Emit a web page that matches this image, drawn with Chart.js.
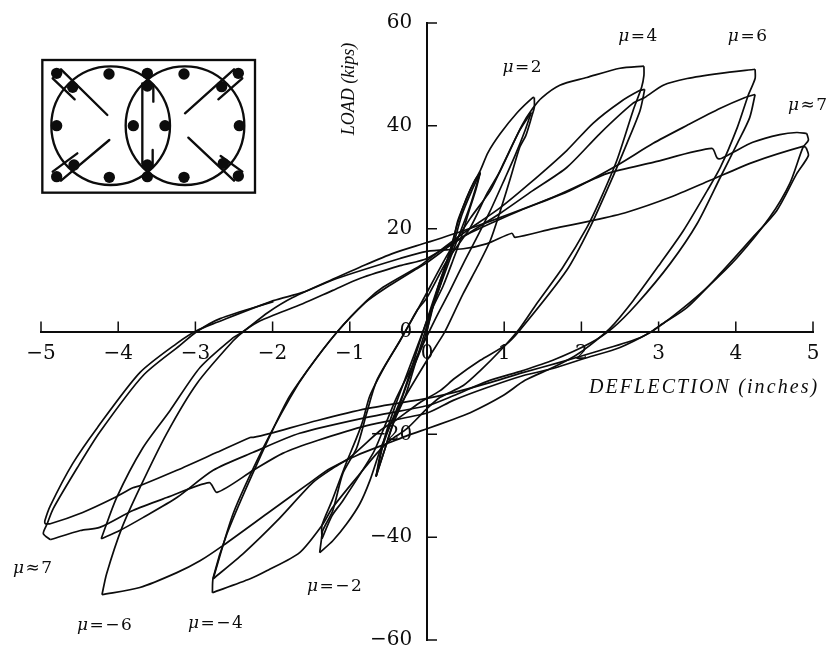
<!DOCTYPE html>
<html><head><meta charset="utf-8">
<script src="https://cdn.jsdelivr.net/npm/chart.js@4"></script>
<style>html,body{margin:0;padding:0;background:#fff}canvas{display:block}</style>
</head><body><canvas id="c" width="829" height="646"></canvas>
<script>
const xTicks=[-5,-4,-3,-2,-1,0,1,2,3,4,5];
const yTicks=[-60,-40,-20,0,20,40,60];
const muLabels=['μ=2','μ=4','μ=6','μ≈7','μ≈7','μ=−6','μ=−4','μ=−2'];
const muX=[1.24,2.74,4.16,4.94,-5.1,-4.17,-2.73,-1.19];
const muY=[51.4,57.4,57.4,43.9,-46.2,-57.2,-56.8,-49.6];
const xTitle='DEFLECTION (inches)';
const yTitle='LOAD (kips)';

const cycle01=[[0,0],[.06,4.1],[.17,8.9],[.30,15.8],[.40,21.2],[.51,25.9],[.62,29.4],[.69,30.9]];
const cycle02=[[.69,30.9],[.63,27.4],[.54,23.2],[.43,17.7],[.32,13.2],[.21,8.9],[.06,4.1],[-.04,-.8],[-.16,-6.6],[-.28,-12.5],[-.45,-18.3],[-.54,-22.6],[-.66,-28.2]];
const cycle03=[[-.66,-28.2],[-.60,-23.5],[-.48,-18.3],[-.32,-12.5],[-.19,-6.6],[-.09,-1.8],[.04,4.1],[.17,9.9],[.32,15.8],[.45,22.6],[.58,27.4],[.69,30.9]];
const cycle04=[[.69,30.9],[.56,24.5],[.43,19.3],[.30,14.2],[.17,8.9],[.01,2.5],[-.12,-2.7],[-.28,-9.1],[-.41,-14.4],[-.54,-20.2],[-.66,-28.2]];
const cycle05=[[-.66,-28.2],[-.51,-21.2],[-.38,-15.4],[-.22,-8.6],[-.06,-2.7],[.04,2.5],[.13,8.0],[.25,13.4],[.34,17.7],[.40,21.6],[.52,26.1],[.60,28.8],[.69,31.3],[.79,34.8],[.95,38.5],[1.17,42.6],[1.37,45.5],[1.39,45.5]];
const cycle06=[[1.39,45.5],[1.39,43.6],[1.36,42.0],[1.28,38.1],[1.20,35.8],[1.08,29.8],[.95,23.5],[.82,17.7],[.65,12.5],[.47,7.4],[.26,.8],[.21,-.6],[0,-5.6],[-.31,-13.4],[-.48,-18.3],[-.61,-23.2],[-.74,-29.0],[-.87,-33.5],[-1.04,-37.4],[-1.22,-40.7],[-1.39,-43.0]];
const cycle07=[[-1.39,-43.0],[-1.37,-40.7],[-1.35,-38.7],[-1.22,-34.8],[-1.09,-27.6],[-.91,-22.6],[-.78,-15.8],[-.65,-9.5],[-.35,-1.8],[-.26,.6],[-.13,4.1],[0,6.6],[.26,13.8],[.56,20.2],[.78,26.9],[.95,31.3],[1.20,39.1],[1.35,42.6]];
const cycle08=[[1.35,42.6],[1.27,39.1],[1.14,34.2],[1.01,29.8],[.82,23.5],[.66,18.7],[.49,13.8],[.30,8.0],[.13,3.1],[-.03,-1.8],[-.22,-7.6],[-.41,-13.4],[-.58,-19.6],[-.70,-23.7],[-1.09,-32.9],[-1.23,-35.8],[-1.36,-40.3]];
const cycle09=[[-1.36,-40.3],[-1.36,-37.7],[-1.23,-32.9],[-1.06,-26.1],[-.91,-20.6],[-.83,-17.3],[-.74,-12.5],[-.54,-6.6],[-.35,-1.8],[-.09,5.1],[.26,14.8],[.56,22.0],[.82,27.4],[1.01,33.3],[1.23,40.1],[1.37,43.4],[1.49,45.5],[1.72,47.9],[2.07,49.4],[2.50,51.2],[2.81,51.6]];
const cycle10=[[2.81,51.6],[2.81,49.8],[2.78,47.5],[2.67,43.0],[2.46,33.3],[2.24,25.5],[2.07,20.2],[1.76,12.5],[1.42,5.4],[1.20,.6],[.95,-3.7],[.69,-7.6],[.47,-10.5],[.17,-12.8],[0,-15.0],[-.26,-18.9],[-.48,-21.2],[-.65,-23.7],[-.91,-28.4],[-1.22,-34.2],[-1.36,-37.7],[-1.65,-43.0],[-2.07,-46.5],[-2.29,-48.1],[-2.78,-50.8]];
const cycle11=[[-2.78,-50.8],[-2.77,-47.9],[-2.59,-39.3],[-2.20,-25.7],[-1.81,-13.4],[-1.55,-7.6],[-1.17,-.2],[-.78,6.0],[-.57,8.6],[-.09,12.8],[0,13.8],[.47,19.1],[.95,24.1],[1.33,28.8],[1.81,35.2],[2.15,40.5],[2.50,44.6],[2.76,46.9],[2.82,47.1]];
const cycle12=[[2.82,47.1],[2.76,43.0],[2.59,36.6],[2.37,28.8],[2.11,20.2],[1.81,11.9],[1.20,.2],[1.01,-2.7],[.69,-5.6],[.36,-9.1],[.17,-11.5],[-.09,-13.8],[-.41,-17.3],[-.61,-19.3],[-1.0,-24.5],[-1.23,-26.7],[-1.48,-29.4],[-1.94,-36.8],[-2.38,-43.2],[-2.77,-48.1]];
const cycle13=[[-2.77,-48.1],[-2.51,-35.4],[-2.12,-22.6],[-1.77,-12.8],[-1.55,-7.6],[-1.17,-.2],[-.80,5.6],[-.54,8.4],[-.09,12.6],[0,13.4],[.30,16.7],[.56,19.3],[.95,23.0],[1.37,27.4],[1.81,31.9],[2.24,38.5],[2.67,44.4],[2.82,45.5],[3.06,47.9],[3.37,49.2],[3.80,50.2],[4.25,51.0]];
const cycle14=[[4.25,51.0],[4.25,49.2],[4.16,45.9],[4.02,39.7],[3.80,31.9],[3.63,27.4],[3.32,19.6],[3.02,13.2],[2.67,6.0],[2.37,.6],[2.11,-2.7],[1.92,-4.7],[1.63,-7.0],[1.27,-9.5],[.98,-12.5],[.56,-15.8],[.30,-17.3],[0,-18.9],[-.28,-20.4],[-.52,-21.8],[-.91,-24.1],[-1.26,-26.7],[-1.48,-29.0],[-2.07,-35.4],[-2.64,-41.6],[-2.94,-44.6],[-3.24,-46.9],[-3.72,-49.8],[-4.21,-51.2]];
const cycle15=[[-4.21,-51.2],[-4.15,-47.1],[-3.95,-38.1],[-3.72,-30.4],[-3.37,-19.8],[-2.98,-10.1],[-2.51,-1.8],[-2.36,.2],[-2.16,2.1],[-1.61,5.4],[-1.22,8.0],[-.87,10.3],[-.35,12.8],[0,14.2],[.47,18.5],[.91,21.6],[1.20,23.5],[1.85,27.4],[2.46,32.3],[2.93,36.6],[3.37,40.1],[3.80,43.4],[4.12,45.5],[4.25,46.1]];
const cycle16=[[4.25,46.1],[4.18,41.6],[4.02,36.6],[3.80,30.0],[3.50,21.0],[3.15,13.2],[2.72,5.4],[2.40,.6],[2.11,-2.3],[1.63,-5.6],[1.24,-7.6],[.78,-9.7],[.34,-12.5],[.01,-14.4],[-.78,-16.7],[-1.65,-19.8],[-2.25,-23.5],[-2.77,-27.0],[-3.24,-32.3],[-3.68,-36.2],[-3.98,-38.7],[-4.22,-40.3]];
const cycle17=[[-4.22,-40.3],[-4.02,-32.3],[-3.68,-22.6],[-3.33,-15.4],[-2.94,-7.0],[-2.51,-1.2],[-2.38,0],[-2.06,3.7],[-1.74,6.6],[-1.17,10.5],[-.87,12.5],[-.44,15.2],[0,17.3],[.47,19.6],[.92,22.0],[1.63,26.1],[2.33,30.7],[2.93,32.9],[3.69,35.6],[3.76,33.7],[3.82,33.7],[3.96,34.8],[4.22,36.8],[4.57,38.3],[4.79,38.7],[4.92,38.5]];
const cycle18=[[4.92,38.5],[4.94,37.2],[4.87,35.8],[4.70,28.8],[4.44,22.2],[4.02,14.4],[3.63,8.6],[3.28,4.1],[2.99,.8],[2.76,-1.2],[2.24,-3.7],[1.72,-6.0],[1.24,-8.0],[.78,-10.1],[.34,-11.9],[0,-13.0],[-.78,-15.0],[-1.42,-17.3],[-2.03,-19.8],[-2.25,-20.6],[-2.29,-20.6],[-2.72,-23.5],[-3.24,-27.0],[-3.72,-30.0],[-3.81,-30.4],[-4.07,-32.5],[-4.46,-35.2],[-4.88,-37.4],[-4.95,-37.4]];
const cycle19=[[-4.95,-37.4],[-4.95,-36.8],[-4.88,-33.9],[-4.59,-25.7],[-4.27,-18.7],[-3.72,-8.0],[-3.24,-2.3],[-2.98,.2],[-2.72,1.8],[-1.99,6.0],[-1.61,7.6],[-1.17,10.3],[-.35,14.2],[0,15.6],[.47,16.1],[.78,17.1],[1.10,19.1],[1.14,18.3],[1.63,20.0],[2.15,21.6],[2.59,23.2],[3.15,26.1],[3.67,29.4],[4.22,32.9],[4.87,36.0],[4.91,35.8]];
const cycle20=[[4.91,35.8],[4.94,34.2],[4.79,30.7],[4.53,23.5],[4.22,18.3],[3.80,11.3],[3.37,4.7],[3.02,1.2],[2.89,-.2],[2.50,-3.1],[2.07,-5.1],[1.63,-7.2],[1.24,-8.6],[.78,-10.9],[.34,-13.4],[.01,-15.8],[-.78,-18.3],[-1.42,-21.2],[-1.87,-23.7],[-2.25,-27.0],[-2.72,-31.3],[-2.82,-29.4],[-3.37,-32.3],[-3.81,-34.8],[-4.24,-38.1],[-4.49,-38.7],[-4.88,-40.5]];
const cycle21=[[-4.88,-40.5],[-4.97,-39.3],[-4.92,-37.4],[-4.84,-34.4],[-4.53,-26.5],[-4.24,-19.6],[-3.68,-8.6],[-3.20,-2.7],[-2.98,0],[-2.68,2.5],[-1.99,5.8]];
const cycles=[cycle01,cycle02,cycle03,cycle04,cycle05,cycle06,cycle07,cycle08,cycle09,cycle10,cycle11,cycle12,cycle13,cycle14,cycle15,cycle16,cycle17,cycle18,cycle19,cycle20,cycle21];

const INK='#0c0c0c';
const tickMarks={id:'tickMarks',afterDraw(ch){
  const c=ch.ctx,sx=ch.scales.x,sy=ch.scales.y,ax=sx.getPixelForValue(0),ay=sy.getPixelForValue(0);
  c.save();c.strokeStyle=INK;c.lineWidth=1.5;c.beginPath();
  xTicks.forEach(v=>{if(v===0)return;const p=sx.getPixelForValue(v);c.moveTo(p,ay);c.lineTo(p,ay-10);});
  yTicks.forEach(v=>{if(v===0)return;const p=sy.getPixelForValue(v);c.moveTo(ax,p);c.lineTo(ax+10,p);});
  c.stroke();c.restore();
}};
const texts={id:'texts',afterDraw(ch){
  const c=ch.ctx,sx=ch.scales.x,sy=ch.scales.y;
  c.save();c.fillStyle=INK;c.textAlign='center';c.textBaseline='middle';
  c.font='17px "DejaVu Serif"';c.letterSpacing='1.5px';
  muLabels.forEach((t,i)=>{
    const w=c.measureText(t).width,l=sx.getPixelForValue(muX[i])-w/2,y=sy.getPixelForValue(muY[i]);
    c.textAlign='left';c.font='italic 17px "DejaVu Serif"';c.fillText(t[0],l,y);
    const m=c.measureText(t[0]).width;c.font='17px "DejaVu Serif"';c.fillText(t.slice(1),l+m,y);
  });
  c.textAlign='center';c.letterSpacing='2.1px';
  c.font='italic 20px "Liberation Serif"';
  c.fillText(xTitle,sx.getPixelForValue(3.59),sy.getPixelForValue(-10.9));
  c.translate(349,89);c.rotate(-Math.PI/2);c.letterSpacing='0px';c.font='italic 18px "Liberation Serif"';c.fillText(yTitle,0,0);
  c.restore();
}};
const inset={id:'inset',afterDraw(ch){
  const c=ch.ctx;c.save();c.translate(30,50);c.scale(1/3,1/3);
  c.strokeStyle=INK;c.fillStyle=INK;c.lineCap='round';
  c.lineWidth=7;c.strokeRect(37,30,638,398);
  c.lineWidth=7;
  [[242,227],[465,227]].forEach(p=>{c.beginPath();c.arc(p[0],p[1],178,0,Math.PI*2);c.stroke();});
  const ln=(a,b,e,f)=>{c.beginPath();c.moveTo(a,b);c.lineTo(e,f);c.stroke();};
  ln(337,100,337,340);ln(370,105,370,155);ln(368,300,368,350);
  ln(93,58,232,195);ln(68,85,134,148);
  ln(612,58,465,190);ln(637,85,565,148);
  ln(93,392,238,270);ln(68,365,142,310);
  ln(612,392,475,263);ln(637,365,572,318);
  [[237,72],[80,227],[238,382],[310,227],[405,227],[628,227],[462,72],[462,382],[352,70],[352,108],[352,345],[352,380],[128,112],[132,345],[575,110],[580,340],[80,70],[80,380],[625,70],[625,378]].forEach(p=>{
    c.beginPath();c.arc(p[0],p[1],17,0,Math.PI*2);c.fill();});
  c.restore();
}};
const noMargins=s=>{s.paddingLeft=s.paddingRight=s.paddingTop=s.paddingBottom=0;if(s.isHorizontal())s.height=0;else s.width=0;};
new Chart(document.getElementById('c'),{
  type:'scatter',
  data:{datasets:cycles.map(d=>({data:d.map(p=>({x:p[0],y:p[1]})),showLine:true,borderColor:INK,borderWidth:1.7,pointRadius:0,tension:0.25,fill:false}))},
  options:{responsive:false,animation:false,events:[],clip:false,
    layout:{padding:{left:41,right:16,top:23,bottom:6}},
    plugins:{legend:{display:false},tooltip:{enabled:false},title:{display:false}},
    scales:{
      x:{type:'linear',position:{y:0},min:-5,max:5,afterFit:noMargins,
        afterBuildTicks:s=>{s.ticks=xTicks.map(v=>({value:v}));},
        border:{color:INK,width:2},grid:{drawOnChartArea:false,drawTicks:false},
        ticks:{padding:10,color:INK,maxRotation:0,autoSkip:false,font:{family:'"DejaVu Serif"',size:20},callback:v=>String(v).replace('-','−')}},
      y:{type:'linear',position:{x:0},min:-60,max:60,afterFit:noMargins,
        afterBuildTicks:s=>{s.ticks=yTicks.map(v=>({value:v}));},
        border:{color:INK,width:2},grid:{drawOnChartArea:false,drawTicks:false},
        ticks:{color:INK,autoSkip:false,font:{family:'"DejaVu Serif"',size:20},callback:v=>String(v).replace('-','−')+'\u2007\u200a'}}
    }},
  plugins:[tickMarks,texts,inset]
});
</script></body></html>
